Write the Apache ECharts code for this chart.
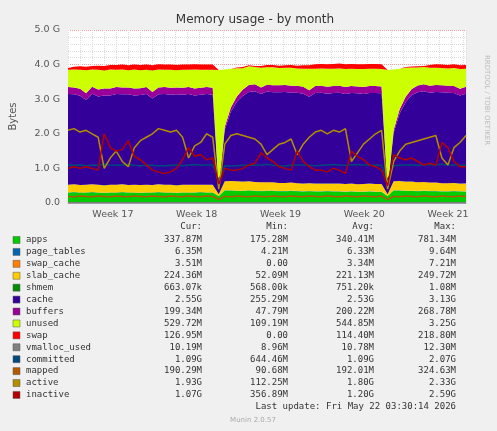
<!DOCTYPE html>
<html><head><meta charset="utf-8">
<script src="https://cdn.jsdelivr.net/npm/echarts@6/dist/echarts.min.js"></script>
<style>html,body{margin:0;padding:0;background:#f0f0f0}#c{width:497px;height:431px}</style>
</head><body><div id="c"></div>
<script>
// values in GiB, one point every half day, day 0 = left edge
const apps = [0.30,0.31,0.30,0.30,0.31,0.30,0.29,0.30,0.30,0.31,0.30,0.30,0.29,0.30,0.30,0.31,0.30,0.30,0.29,0.30,0.30,0.30,0.31,0.30,0.30,0.20,0.36,0.36,0.35,0.35,0.36,0.35,0.34,0.35,0.35,0.34,0.34,0.35,0.34,0.33,0.34,0.33,0.33,0.34,0.33,0.33,0.32,0.33,0.32,0.32,0.33,0.32,0.32,0.20,0.36,0.36,0.35,0.35,0.34,0.35,0.34,0.34,0.33,0.33,0.34,0.33,0.33];
const pageTables = [0.006,0.006,0.006,0.006,0.006,0.006,0.006,0.006,0.006,0.006,0.006,0.006,0.006,0.006,0.006,0.006,0.006,0.006,0.006,0.006,0.006,0.006,0.006,0.006,0.006,0.004,0.006,0.006,0.006,0.006,0.006,0.006,0.006,0.006,0.006,0.006,0.006,0.006,0.006,0.006,0.006,0.006,0.006,0.006,0.006,0.006,0.006,0.006,0.006,0.006,0.006,0.006,0.006,0.004,0.006,0.006,0.006,0.006,0.006,0.006,0.006,0.006,0.006,0.006,0.006,0.006,0.006];
const swapCache = [0.003,0.003,0.003,0.003,0.003,0.003,0.003,0.003,0.003,0.003,0.003,0.003,0.003,0.003,0.003,0.003,0.003,0.003,0.003,0.003,0.003,0.003,0.003,0.003,0.003,0,0,0,0.001,0.001,0.002,0.002,0.002,0.003,0.003,0.003,0.003,0.003,0.003,0.003,0.003,0.003,0.003,0.003,0.003,0.003,0.003,0.003,0.003,0.003,0.003,0.003,0.003,0,0,0,0.001,0.001,0.002,0.002,0.003,0.003,0.003,0.003,0.003,0.003,0.003];
const slab = [0.22,0.22,0.21,0.22,0.22,0.22,0.21,0.22,0.22,0.22,0.21,0.22,0.22,0.22,0.21,0.22,0.22,0.22,0.21,0.22,0.22,0.22,0.21,0.22,0.22,0.05,0.26,0.27,0.27,0.26,0.26,0.25,0.25,0.24,0.24,0.23,0.23,0.23,0.22,0.22,0.22,0.22,0.22,0.21,0.22,0.22,0.22,0.22,0.21,0.22,0.22,0.22,0.22,0.05,0.26,0.27,0.26,0.26,0.25,0.25,0.24,0.24,0.23,0.23,0.23,0.22,0.22];
const shmem = [0.001,0.001,0.001,0.001,0.001,0.001,0.001,0.001,0.001,0.001,0.001,0.001,0.001,0.001,0.001,0.001,0.001,0.001,0.001,0.001,0.001,0.001,0.001,0.001,0.001,0.001,0.001,0.001,0.001,0.001,0.001,0.001,0.001,0.001,0.001,0.001,0.001,0.001,0.001,0.001,0.001,0.001,0.001,0.001,0.001,0.001,0.001,0.001,0.001,0.001,0.001,0.001,0.001,0.001,0.001,0.001,0.001,0.001,0.001,0.001,0.001,0.001,0.001,0.001,0.001,0.001,0.001];
const cache = [2.62,2.60,2.58,2.45,2.62,2.55,2.60,2.58,2.62,2.60,2.62,2.58,2.60,2.62,2.50,2.60,2.62,2.60,2.63,2.60,2.62,2.58,2.60,2.62,2.60,0.15,1.50,2.00,2.30,2.48,2.58,2.62,2.55,2.62,2.60,2.62,2.63,2.60,2.62,2.60,2.50,2.62,2.63,2.60,2.62,2.63,2.60,2.62,2.63,2.60,2.62,2.63,2.62,0.15,1.40,1.95,2.30,2.50,2.60,2.62,2.60,2.62,2.63,2.62,2.60,2.55,2.60];
const buffers = [0.20,0.20,0.20,0.19,0.20,0.20,0.20,0.20,0.20,0.20,0.20,0.20,0.20,0.20,0.19,0.20,0.20,0.20,0.20,0.20,0.20,0.20,0.20,0.20,0.20,0.02,0.08,0.12,0.15,0.18,0.20,0.20,0.19,0.20,0.20,0.20,0.20,0.20,0.20,0.20,0.19,0.20,0.20,0.20,0.20,0.20,0.20,0.20,0.20,0.20,0.20,0.20,0.20,0.02,0.08,0.12,0.15,0.18,0.20,0.20,0.20,0.20,0.20,0.20,0.20,0.19,0.20];
const unused = [0.50,0.52,0.55,0.67,0.50,0.57,0.52,0.55,0.50,0.52,0.50,0.55,0.52,0.50,0.62,0.52,0.50,0.52,0.50,0.52,0.50,0.55,0.52,0.50,0.52,3.42,1.65,1.12,0.82,0.62,0.54,0.50,0.57,0.50,0.52,0.50,0.50,0.52,0.50,0.52,0.62,0.50,0.50,0.52,0.50,0.50,0.52,0.50,0.50,0.52,0.50,0.50,0.50,3.42,1.75,1.17,0.84,0.62,0.52,0.50,0.52,0.50,0.50,0.50,0.52,0.57,0.52];
const swap = [0.05,0.08,0.10,0.10,0.10,0.12,0.13,0.13,0.14,0.14,0.14,0.14,0.15,0.15,0.15,0.15,0.15,0.15,0.15,0.15,0.15,0.15,0.15,0.15,0.15,0,0,0,0.02,0.03,0.03,0.03,0.05,0.07,0.07,0.07,0.07,0.08,0.08,0.10,0.10,0.13,0.13,0.13,0.14,0.14,0.14,0.14,0.14,0.14,0.14,0.14,0.14,0,0,0,0.02,0.03,0.03,0.03,0.08,0.10,0.10,0.10,0.11,0.11,0.11];
const vmalloc = [0.010,0.010,0.010,0.010,0.010,0.010,0.010,0.010,0.010,0.010,0.010,0.010,0.010,0.010,0.010,0.010,0.010,0.010,0.010,0.010,0.010,0.010,0.010,0.010,0.010,0.009,0.010,0.010,0.010,0.010,0.010,0.010,0.010,0.010,0.010,0.010,0.010,0.010,0.010,0.010,0.010,0.010,0.010,0.010,0.010,0.010,0.010,0.010,0.010,0.010,0.010,0.010,0.010,0.009,0.010,0.010,0.010,0.010,0.010,0.010,0.010,0.010,0.010,0.010,0.010,0.010,0.010];
const committed = [1.10,1.09,1.10,1.08,1.10,1.09,1.12,1.10,1.09,1.10,1.11,1.09,1.08,1.10,1.09,1.08,1.07,1.09,1.10,1.08,1.10,1.11,1.09,1.10,1.10,0.65,1.08,1.07,1.08,1.09,1.10,1.09,1.10,1.12,1.09,1.08,1.07,1.09,1.10,1.10,1.09,1.08,1.09,1.10,1.11,1.10,1.09,1.10,1.11,1.10,1.09,1.10,1.09,0.65,1.08,1.09,1.10,1.10,1.09,1.10,1.11,1.10,1.12,1.10,1.10,1.09,1.10];
const mapped = [0.19,0.18,0.20,0.19,0.18,0.20,0.19,0.18,0.20,0.19,0.18,0.20,0.19,0.18,0.20,0.19,0.18,0.20,0.19,0.18,0.20,0.19,0.18,0.20,0.19,0.10,0.19,0.18,0.20,0.19,0.18,0.20,0.19,0.18,0.20,0.19,0.18,0.20,0.19,0.18,0.20,0.19,0.18,0.20,0.19,0.18,0.20,0.19,0.18,0.20,0.19,0.18,0.20,0.10,0.19,0.18,0.20,0.19,0.18,0.20,0.19,0.18,0.20,0.19,0.18,0.20,0.19];
const active = [2.10,2.15,2.05,2.10,2.00,1.90,1.00,1.30,1.50,1.20,1.05,1.60,1.80,1.90,2.00,2.15,2.10,2.05,2.10,1.90,1.30,1.65,1.75,2.00,1.90,0.40,1.70,1.95,2.00,1.95,1.90,1.85,1.70,1.40,1.55,1.70,1.75,1.85,1.40,1.70,1.90,2.05,2.10,2.00,2.10,2.05,2.15,1.20,1.45,1.70,1.85,2.00,2.10,0.40,1.20,1.50,1.70,1.75,1.80,1.85,1.90,1.95,1.30,1.10,1.60,1.75,1.95];
const inactive = [1.00,1.05,1.00,1.05,1.00,0.95,2.00,1.60,1.50,1.55,1.80,1.35,1.25,1.10,0.95,0.90,0.85,0.90,1.00,1.25,1.60,1.35,1.40,1.25,1.30,0.55,1.00,0.95,0.95,1.00,1.10,1.15,1.45,1.30,1.20,1.05,1.00,0.95,1.50,1.20,1.05,0.95,0.95,0.90,1.00,0.95,0.85,1.50,1.35,1.25,1.10,1.05,0.95,0.50,1.40,1.30,1.25,1.30,1.20,1.10,1.15,1.10,1.75,1.60,1.20,1.05,1.05];

const weekLabels = ['Week 17','Week 18','Week 19','Week 20','Week 21'];
const yTicks = ['0.0','1.0 G','2.0 G','3.0 G','4.0 G','5.0 G'];
const names = ['apps','page_tables','swap_cache','slab_cache','shmem','cache','buffers','unused','swap','vmalloc_used','committed','mapped','active','inactive'];
const colors = ['#00CC00','#0066B3','#FF8000','#FFCC00','#008F00','#330099','#990099','#CCFF00','#FF0000','#808080','#00487D','#B35A00','#B38F00','#B30000'];
const curV = ['337.87M','6.35M','3.51M','224.36M','663.07k','2.55G','199.34M','529.72M','126.95M','10.19M','1.09G','190.29M','1.93G','1.07G'];
const minV = ['175.28M','4.21M','0.00','52.09M','568.00k','255.29M','47.79M','109.19M','0.00','8.96M','644.46M','90.68M','112.25M','356.89M'];
const avgV = ['340.41M','6.33M','3.34M','221.13M','751.20k','2.53G','200.22M','544.85M','114.40M','10.78M','1.09G','192.01M','1.80G','1.20G'];
const maxV = ['781.34M','9.64M','7.21M','249.72M','1.08M','3.13G','268.78M','3.25G','218.80M','12.30M','2.07G','324.63M','2.33G','2.59G'];

const slots = apps.map((_,i)=>String(i));
const stacked = [apps,pageTables,swapCache,slab,shmem,cache,buffers,unused,swap];
const lines = {9:vmalloc,10:committed,11:mapped,12:active,13:inactive};
const series = [];
stacked.forEach((arr,k)=>series.push({name:names[k],type:'line',stack:'mem',data:arr,symbol:'none',
  lineStyle:{width:0},areaStyle:{color:colors[k],opacity:1},itemStyle:{color:colors[k]},z:2}));
Object.keys(lines).forEach(k=>series.push({name:names[k],type:'line',data:lines[k],symbol:'none',
  lineStyle:{width:1.5,color:colors[k]},itemStyle:{color:colors[k]},z:3}));

const mono = 'DejaVu Sans Mono';
const g = [];
const headY = 227, rowH = 11.92;
[['Cur:',202],['Min:',288],['Avg:',374],['Max:',456]].forEach(([t,x])=>g.push({type:'text',x:x,y:headY,style:{text:t,font:'9px '+mono,fill:'#333',align:'right',verticalAlign:'middle'}}));
names.forEach((n,i)=>{
  const y = 240 + i*rowH;
  g.push({type:'rect',shape:{x:13,y:y-3.5,width:7,height:7},style:{fill:colors[i],stroke:'#555',lineWidth:0.5}});
  g.push({type:'text',x:26,y:y,style:{text:n,font:'9px '+mono,fill:'#333',verticalAlign:'middle'}});
  [[curV,202],[minV,288],[avgV,374],[maxV,456]].forEach(([a,x])=>g.push({type:'text',x:x,y:y,style:{text:a[i],font:'9px '+mono,fill:'#333',align:'right',verticalAlign:'middle'}}));
});
g.push({type:'text',x:456,y:407,style:{text:'Last update: Fri May 22 03:30:14 2026',font:'9px '+mono,fill:'#333',align:'right',verticalAlign:'middle'}});
g.push({type:'text',x:253,y:420,style:{text:'Munin 2.0.57',font:'7px DejaVu Sans',fill:'#aaa',align:'center',verticalAlign:'middle'}});
g.push({type:'text',x:487,y:100,rotation:-Math.PI/2,style:{text:'RRDTOOL / TOBI OETIKER',font:'7px DejaVu Sans',fill:'#bbb',align:'center',verticalAlign:'middle'}});

const chart = echarts.init(document.getElementById('c'));
chart.setOption({
  backgroundColor:'#f0f0f0', animation:false,
  title:{text:'Memory usage - by month',left:250,top:9,textAlign:'center',textStyle:{fontFamily:'DejaVu Sans',fontSize:12,fontWeight:'normal',color:'#333'}},
  grid:{left:67,right:31,top:30,bottom:228,backgroundColor:'#fff',show:true,borderWidth:0},
  xAxis:[
    {type:'category',data:slots,boundaryGap:false,axisLine:{show:false},axisTick:{show:false},axisLabel:{show:false},splitLine:{show:false}},
    {type:'value',min:0,max:33.25,interval:0.25,position:'bottom',axisLine:{lineStyle:{color:'#aab'}},axisTick:{show:false},splitLine:{show:false},
     axisLabel:{color:'#555',fontFamily:'DejaVu Sans',fontSize:9.5,margin:7,showMaxLabel:false,
       formatter:v=>{const w=(v-3.75)/7; return Math.abs(w-Math.round(w))<1e-6&&w>=0?weekLabels[Math.round(w)]:'';}}},
    {type:'value',min:0,max:33.25,interval:1,position:'bottom',axisLine:{show:false},axisTick:{show:false},axisLabel:{show:false},
     splitLine:{show:true,lineStyle:{color:'#ddd',type:'dotted'}}}
  ],
  yAxis:{type:'value',min:0,max:5,interval:1,name:'Bytes',nameLocation:'middle',nameGap:50,nameRotate:90,
    nameTextStyle:{fontFamily:'DejaVu Sans',fontSize:10,color:'#555'},
    axisLine:{show:false},axisTick:{show:false},
    axisLabel:{color:'#555',fontFamily:'DejaVu Sans',fontSize:9.5,formatter:v=>yTicks[Math.round(v)]},
    splitLine:{lineStyle:{color:'#f2a0a0',type:'dotted'}},
    minorTick:{show:false,splitNumber:5},minorSplitLine:{show:true,lineStyle:{color:'#ddd',type:'dotted'}}},
  series:series,
  graphic:g
});
</script></body></html>
